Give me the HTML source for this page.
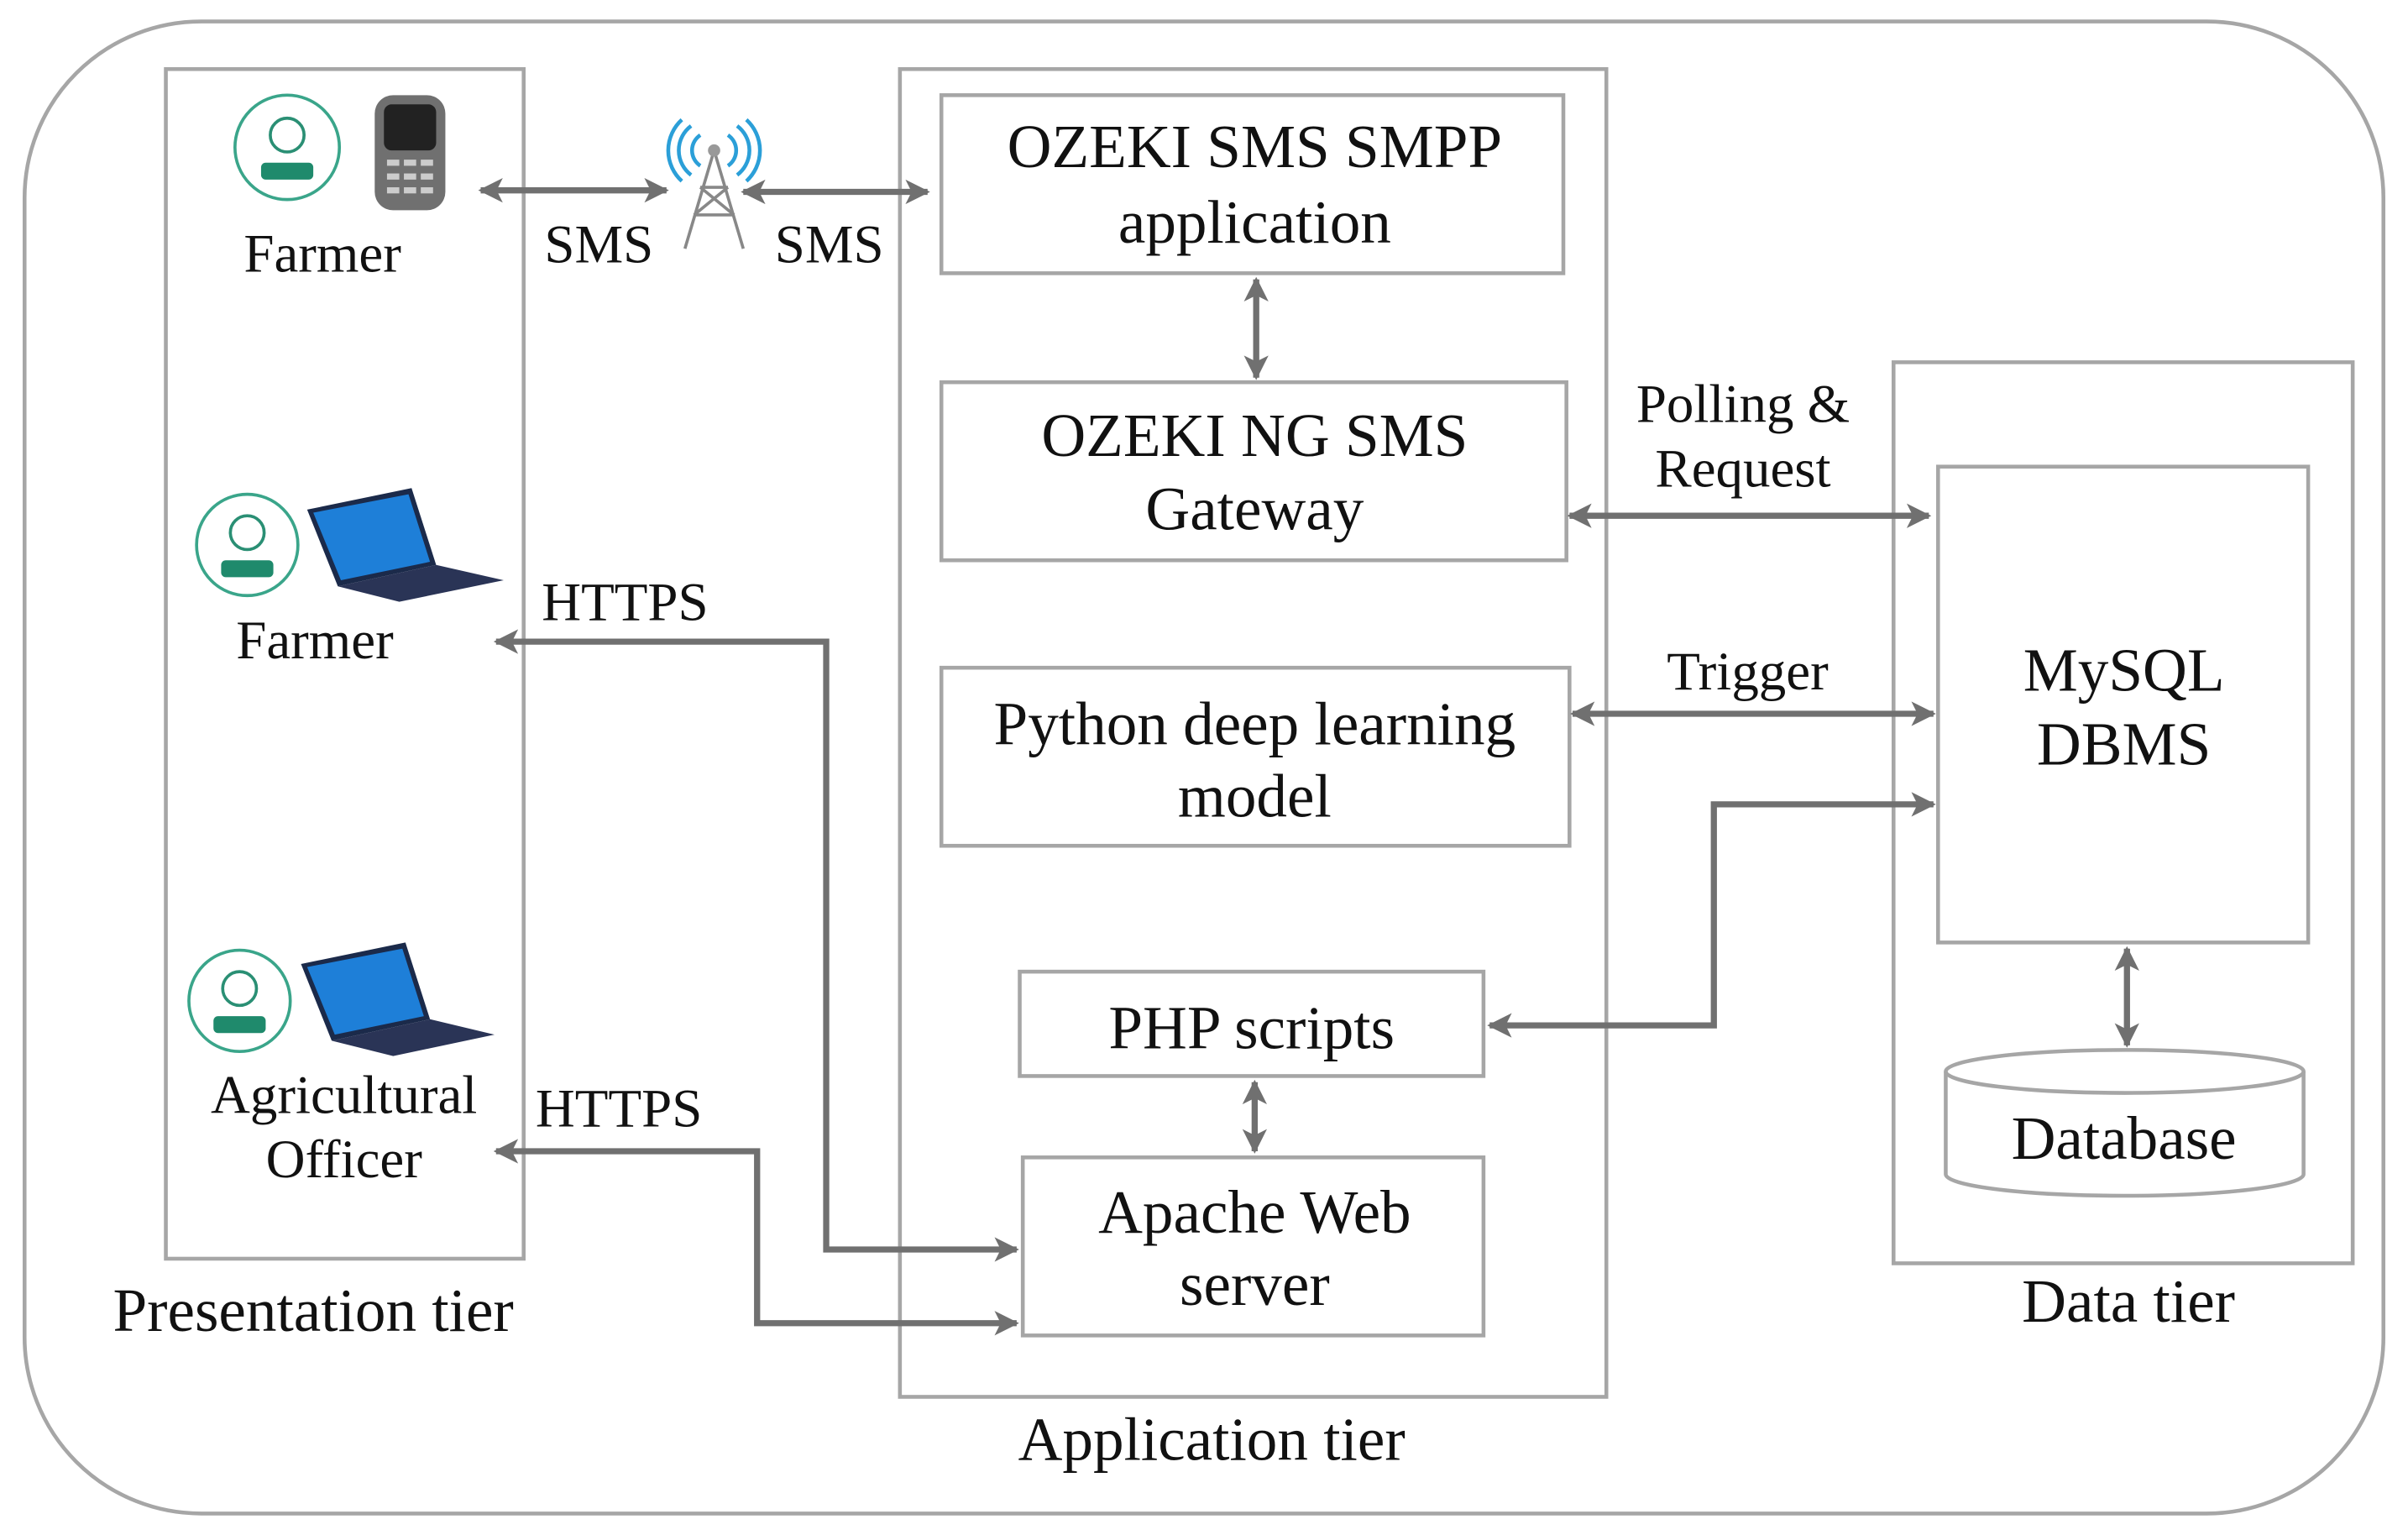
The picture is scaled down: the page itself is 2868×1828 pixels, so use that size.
<!DOCTYPE html>
<html><head><meta charset="utf-8"><style>
html,body{margin:0;padding:0;background:#fff;width:2868px;height:1828px;overflow:hidden}
svg{display:block}
text{font-family:"Liberation Serif","Times New Roman",Times,"Tinos","DejaVu Serif",serif;fill:#111}
</style></head><body>
<svg width="2868" height="1828" viewBox="0 0 1568 1000" preserveAspectRatio="none" xmlns="http://www.w3.org/2000/svg">
<defs>
<marker id="a" viewBox="0 0 10 10" refX="9" refY="5" markerWidth="4" markerHeight="4" orient="auto-start-reverse" markerUnits="strokeWidth">
<path d="M0,0 L10,5 L0,10 L2.5,5 z" fill="#707070"/></marker>
</defs>
<g fill="none" stroke="#a6a6a6" stroke-width="2.5">
<rect x="16" y="14" width="1536" height="972" rx="115"/>
<rect x="108" y="45" width="233" height="775"/>
<rect x="586" y="45" width="460" height="865"/>
<rect x="1233" y="236" width="299" height="587"/>
<rect x="613" y="62" width="405" height="116"/>
<rect x="613" y="249" width="407" height="116"/>
<rect x="613" y="435" width="409" height="116"/>
<rect x="664" y="633" width="302" height="68"/>
<rect x="666" y="754" width="300" height="116"/>
<rect x="1262" y="304" width="241" height="310"/>
<path d="M1267,698 L1267,765 A116.5,14 0 0 0 1500,765 L1500,698"/>
<ellipse cx="1383.5" cy="698" rx="116.5" ry="14"/>
</g>
<g fill="none" stroke="#707070" stroke-width="4" marker-start="url(#a)" marker-end="url(#a)">
<line x1="313" y1="124" x2="434" y2="124"/>
<line x1="484" y1="125" x2="604" y2="125"/>
<line x1="818" y1="182" x2="818" y2="246"/>
<line x1="1022" y1="336" x2="1256" y2="336"/>
<line x1="1024" y1="465" x2="1259" y2="465"/>
<polyline points="1259,524 1116,524 1116,668 970,668"/>
<line x1="817" y1="705" x2="817" y2="750"/>
<line x1="1385" y1="618" x2="1385" y2="681"/>
<polyline points="662,814 538,814 538,418 323,418"/>
<polyline points="662,862 493,862 493,750 323,750"/>
</g>
<g font-size="40" text-anchor="middle" font-family="Liberation Serif, Times New Roman, serif">
<text x="817" y="109">OZEKI SMS SMPP</text>
<text x="817" y="158">application</text>
<text x="817" y="297">OZEKI NG SMS</text>
<text x="817" y="345">Gateway</text>
<text x="817" y="485">Python deep learning</text>
<text x="817" y="532">model</text>
<text x="815" y="683">PHP scripts</text>
<text x="817" y="803">Apache Web</text>
<text x="817" y="850">server</text>
<text x="1383" y="450">MySQL</text>
<text x="1383" y="498">DBMS</text>
<text x="1383" y="755">Database</text>
<text x="204" y="867">Presentation tier</text>
<text x="789" y="951">Application tier</text>
<text x="1386" y="861">Data tier</text>
</g>
<g font-size="35.5" text-anchor="middle" font-family="Liberation Serif, Times New Roman, serif">
<text x="210" y="177">Farmer</text>
<text x="205" y="429">Farmer</text>
<text x="224" y="725">Agricultural</text>
<text x="224" y="767">Officer</text>
<text x="390" y="171">SMS</text>
<text x="540" y="171">SMS</text>
<text x="407" y="404">HTTPS</text>
<text x="403" y="734">HTTPS</text>
<text x="1135" y="275">Polling &amp;</text>
<text x="1135" y="317">Request</text>
<text x="1138" y="449">Trigger</text>
</g>
<g>
<g transform="translate(187,96)"><circle r="34" fill="none" stroke="#3aa58a" stroke-width="2"/><circle cy="-8" r="11" fill="none" stroke="#2a8f74" stroke-width="2"/><rect x="-17" y="10" width="34" height="11" rx="3" fill="#1f8a6c"/></g>
<g transform="translate(161,355)"><circle r="33" fill="none" stroke="#3aa58a" stroke-width="2"/><circle cy="-8" r="11" fill="none" stroke="#2a8f74" stroke-width="2"/><rect x="-17" y="10" width="34" height="11" rx="3" fill="#1f8a6c"/></g>
<g transform="translate(156,652)"><circle r="33" fill="none" stroke="#3aa58a" stroke-width="2"/><circle cy="-8" r="11" fill="none" stroke="#2a8f74" stroke-width="2"/><rect x="-17" y="10" width="34" height="11" rx="3" fill="#1f8a6c"/></g>
</g>
<rect x="244" y="62" width="46" height="75" rx="12" fill="#707070"/>
<rect x="250" y="68" width="34" height="30" rx="5" fill="#222"/>
<g fill="#ccc"><rect x="252" y="104" width="8" height="4"/><rect x="263" y="104" width="8" height="4"/><rect x="274" y="104" width="8" height="4"/><rect x="252" y="113" width="8" height="4"/><rect x="263" y="113" width="8" height="4"/><rect x="274" y="113" width="8" height="4"/><rect x="252" y="122" width="8" height="4"/><rect x="263" y="122" width="8" height="4"/><rect x="274" y="122" width="8" height="4"/></g>
<g fill="none" stroke="#888" stroke-width="2"><path d="M465,98 L446,162 M465,98 L484,162 M452,140 L478,140 M456,122 L474,122 M452,140 L474,122 M478,140 L456,122"/></g>
<circle cx="465" cy="98" r="4" fill="#999"/>
<g fill="none" stroke="#2b9fd8" stroke-width="2.5"><path d="M456,88 A12,12 0 0 0 456,108"/><path d="M450,82 A20,20 0 0 0 450,114"/><path d="M444,78 A27,27 0 0 0 444,118"/><path d="M474,88 A12,12 0 0 1 474,108"/><path d="M480,82 A20,20 0 0 1 480,114"/><path d="M486,78 A27,27 0 0 1 486,118"/></g>
<g transform="translate(200,318)"><polygon points="0,14 68,0 84,50 20,64" fill="#1b2a4a"/><polygon points="4,16 66,4 80,48 22,60" fill="#1e7fd8"/><polygon points="20,64 84,50 128,60 60,74" fill="#2a3456"/></g>
<g transform="translate(196,614)"><polygon points="0,14 68,0 84,50 20,64" fill="#1b2a4a"/><polygon points="4,16 66,4 80,48 22,60" fill="#1e7fd8"/><polygon points="20,64 84,50 126,60 60,74" fill="#2a3456"/></g>
</svg>
</body></html>
